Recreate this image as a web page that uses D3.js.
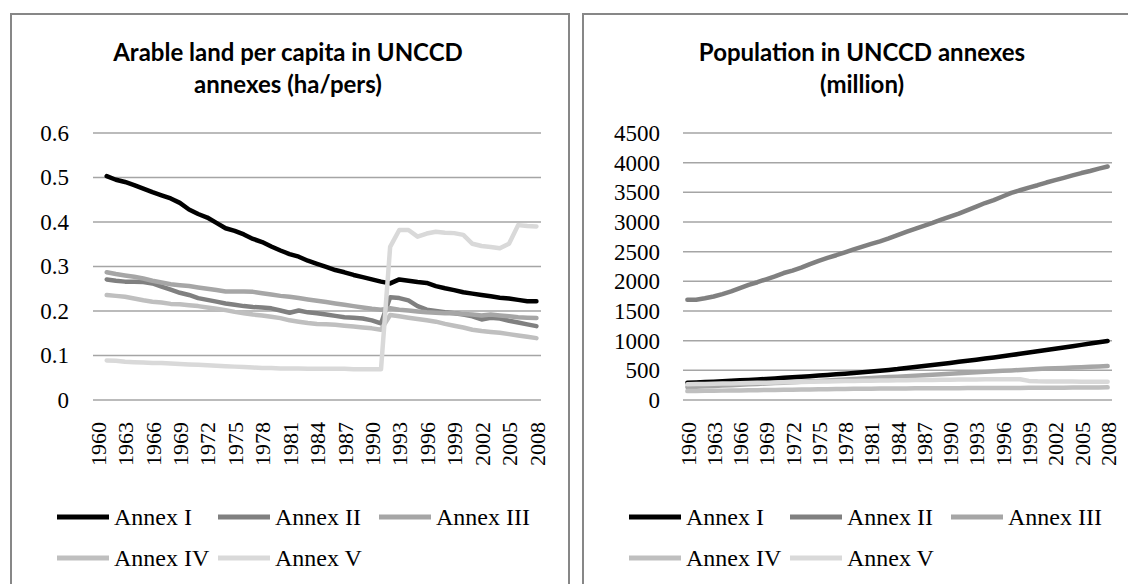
<!DOCTYPE html>
<html>
<head>
<meta charset="utf-8">
<script src="https://cdn.jsdelivr.net/npm/d3@7"></script>
<style>
  body { margin: 0; background: #fff; }
  svg { display: block; }
</style>
</head>
<body>
<svg id="chart"></svg>
<script>
// categories
const years = d3.range(1960, 2009);
const yearTicks = [1960, 1963, 1966, 1969, 1972, 1975, 1978, 1981, 1984, 1987, 1990, 1993, 1996, 1999, 2002, 2005, 2008];
const seriesNames = ["Annex I", "Annex II", "Annex III", "Annex IV", "Annex V"];
const seriesColors = ["#000000", "#808080", "#a6a6a6", "#bfbfbf", "#d9d9d9"];

// arable land per capita (ha/pers), no value for 1960
const arableI = [null,
  0.503, 0.495, 0.490, 0.483, 0.475, 0.467, 0.460, 0.453, 0.443, 0.428,
  0.418, 0.410, 0.398, 0.386, 0.380, 0.372, 0.362, 0.355, 0.345, 0.336,
  0.328, 0.322, 0.313, 0.306, 0.299, 0.292, 0.287, 0.281, 0.276, 0.271,
  0.266, 0.262, 0.271, 0.268, 0.265, 0.263, 0.256, 0.251, 0.247, 0.242,
  0.239, 0.236, 0.233, 0.230, 0.228, 0.225, 0.222, 0.222];
const arableII = [null,
  0.271, 0.268, 0.266, 0.266, 0.265, 0.262, 0.255, 0.248, 0.241, 0.236,
  0.229, 0.225, 0.221, 0.217, 0.214, 0.211, 0.209, 0.208, 0.206, 0.201,
  0.196, 0.201, 0.197, 0.195, 0.192, 0.189, 0.186, 0.185, 0.183, 0.179,
  0.172, 0.231, 0.229, 0.224, 0.211, 0.203, 0.200, 0.197, 0.195, 0.192,
  0.188, 0.181, 0.185, 0.183, 0.178, 0.174, 0.170, 0.166];
const arableIII = [null,
  0.287, 0.283, 0.280, 0.277, 0.273, 0.268, 0.264, 0.260, 0.258, 0.256,
  0.253, 0.250, 0.247, 0.244, 0.244, 0.244, 0.243, 0.240, 0.237, 0.234,
  0.232, 0.229, 0.226, 0.223, 0.220, 0.217, 0.214, 0.211, 0.208, 0.205,
  0.203, 0.206, 0.203, 0.201, 0.199, 0.197, 0.196, 0.195, 0.195, 0.193,
  0.192, 0.190, 0.192, 0.190, 0.188, 0.186, 0.185, 0.184];
const arableIV = [null,
  0.236, 0.234, 0.232, 0.228, 0.224, 0.221, 0.219, 0.216, 0.215, 0.213,
  0.211, 0.208, 0.205, 0.202, 0.198, 0.195, 0.192, 0.190, 0.187, 0.184,
  0.179, 0.176, 0.173, 0.171, 0.170, 0.169, 0.167, 0.165, 0.163, 0.161,
  0.158, 0.191, 0.188, 0.185, 0.182, 0.179, 0.176, 0.171, 0.167, 0.163,
  0.158, 0.155, 0.153, 0.151, 0.148, 0.145, 0.142, 0.139];
const arableV = [null,
  0.089, 0.088, 0.086, 0.085, 0.084, 0.083, 0.083, 0.082, 0.081, 0.080,
  0.079, 0.078, 0.077, 0.076, 0.075, 0.074, 0.073, 0.072, 0.072, 0.071,
  0.071, 0.071, 0.070, 0.070, 0.070, 0.070, 0.070, 0.069, 0.069, 0.069,
  0.069, 0.344, 0.382, 0.382, 0.367, 0.374, 0.378, 0.376, 0.375, 0.371,
  0.351, 0.346, 0.344, 0.341, 0.351, 0.393, 0.391, 0.390];

// population (million)
const popI = [
  290, 296, 302, 309, 316, 323, 331, 339, 347, 355,
  364, 373, 382, 391, 401, 411, 422, 433, 444, 456,
  468, 481, 494, 507, 521, 540, 555, 572, 589, 607,
  625, 643, 661, 680, 699, 718, 738, 758, 778, 799,
  820, 841, 863, 885, 907, 929, 951, 973, 995];
const popII = [
  1690, 1690, 1715, 1745, 1785, 1830, 1885, 1940, 1985, 2035,
  2085, 2140, 2180, 2230, 2290, 2345, 2395, 2440, 2490, 2540,
  2585, 2630, 2675, 2725, 2780, 2835, 2885, 2935, 2985, 3040,
  3090, 3140, 3200, 3260, 3320, 3370, 3430, 3490, 3535, 3580,
  3620, 3665, 3705, 3745, 3785, 3825, 3860, 3900, 3935];
const popIII = [
  218, 224, 230, 237, 243, 250, 257, 264, 271, 278,
  285, 292, 300, 307, 315, 322, 330, 338, 346, 354,
  362, 370, 378, 386, 394, 402, 410, 418, 426, 434,
  442, 450, 458, 466, 474, 483, 491, 499, 507, 514,
  522, 529, 535, 541, 547, 553, 559, 565, 571];
const popIV = [
  150, 152, 154, 156, 158, 160, 162, 164, 166, 168,
  170, 172, 174, 176, 178, 180, 182, 184, 186, 188,
  189, 190, 192, 193, 194, 195, 196, 197, 198, 199,
  200, 200, 201, 201, 202, 202, 203, 203, 204, 205,
  205, 206, 207, 208, 209, 210, 211, 212, 213];
const popV = [
  265, 268, 271, 274, 277, 280, 283, 286, 289, 292,
  295, 298, 301, 304, 307, 310, 313, 316, 319, 321,
  323, 325, 327, 329, 331, 333, 335, 337, 339, 341,
  343, 345, 346, 347, 348, 349, 350, 350, 350, 322,
  315, 313, 312, 311, 310, 309, 308, 307, 306];

const arableTicks = [0, 0.1, 0.2, 0.3, 0.4, 0.5, 0.6];
const popTicks = [0, 500, 1000, 1500, 2000, 2500, 3000, 3500, 4000, 4500];

const w = 1128;
const h = 584;
const serif = "'Liberation Serif', 'Times New Roman', serif";

const svg = d3.select("#chart").attr("width", w).attr("height", h);

const drawPanel = (p) => {
  const g = svg.append("g");

  // chart border
  g.append("rect")
    .attr("x", p.left).attr("y", 14)
    .attr("width", 558).attr("height", 600)
    .attr("fill", "#fff")
    .attr("stroke", "#878787")
    .attr("stroke-width", 2);

  // title
  g.append("text")
    .attr("x", p.titleX)
    .attr("text-anchor", "middle")
    .style("font-family", "Lato, 'Open Sans', sans-serif")
    .style("font-weight", "bold")
    .style("font-size", "24px")
    .selectAll("tspan")
    .data(p.title)
    .enter()
    .append("tspan")
    .attr("x", p.titleX)
    .attr("y", (d, i) => 61 + i * 32)
    .text((d) => d);

  const xScale = d3.scalePoint()
    .domain(years)
    .range([p.x0, p.x1])
    .padding(0.5);

  const yScale = d3.scaleLinear()
    .domain([0, p.yMax])
    .range([400, 133]);

  // gridlines
  g.selectAll("line.grid")
    .data(p.ticks)
    .enter()
    .append("line")
    .attr("class", "grid")
    .attr("x1", p.x0).attr("x2", p.x1)
    .attr("y1", (d) => yScale(d)).attr("y2", (d) => yScale(d))
    .attr("stroke", "#a5a5a5")
    .attr("stroke-width", 1.5);

  // y axis labels
  const yAxis = d3.axisLeft(yScale)
    .tickValues(p.ticks)
    .tickFormat(p.format)
    .tickSize(0)
    .tickPadding(0);
  const ya = g.append("g")
    .attr("transform", "translate(" + p.labelX + ",0)")
    .call(yAxis);
  ya.select(".domain").remove();
  ya.selectAll("text")
    .style("font-family", serif)
    .style("font-size", "23px")
    .attr("fill", "#000");

  // x axis labels
  const xAxis = d3.axisBottom(xScale)
    .tickValues(yearTicks)
    .tickSize(0);
  const xa = g.append("g")
    .attr("transform", "translate(0,400)")
    .call(xAxis);
  xa.select(".domain").remove();
  xa.selectAll("text")
    .attr("transform", "translate(0,22) rotate(-90)")
    .attr("x", 0).attr("y", 0)
    .attr("dy", "0.35em")
    .attr("text-anchor", "end")
    .style("font-family", serif)
    .style("font-size", "22px")
    .attr("fill", "#000");

  // lines
  const line = d3.line()
    .defined((d) => d != null)
    .x((d, i) => xScale(years[i]))
    .y((d) => yScale(d));

  g.selectAll("path.series")
    .data(p.series)
    .enter()
    .append("path")
    .attr("class", "series")
    .attr("d", (d) => line(d))
    .attr("fill", "none")
    .attr("stroke", (d, i) => seriesColors[i])
    .attr("stroke-width", 4.5)
    .attr("stroke-linejoin", "round")
    .attr("stroke-linecap", "round");

  // legend
  const cols = [46, 207, 368];
  const rows = [517, 558];
  const items = g.selectAll("g.legend")
    .data(seriesNames)
    .enter()
    .append("g")
    .attr("class", "legend")
    .attr("transform", (d, i) => "translate(" + (p.left + cols[i % 3]) + "," + rows[Math.floor(i / 3)] + ")");
  items.append("line")
    .attr("x1", 0).attr("x2", 52)
    .attr("y1", 0).attr("y2", 0)
    .attr("stroke", (d, i) => seriesColors[i])
    .attr("stroke-width", 5);
  items.append("text")
    .attr("x", 57)
    .attr("dy", "0.35em")
    .style("font-family", serif)
    .style("font-size", "24px")
    .text((d) => d);
};

drawPanel({
  left: 11,
  title: ["Arable land per capita in UNCCD", "annexes (ha/pers)"],
  titleX: 288,
  x0: 93, x1: 541,
  yMax: 0.6,
  ticks: arableTicks,
  format: (d) => d === 0 ? "0" : d3.format(".1f")(d),
  labelX: 69,
  series: [arableI, arableII, arableIII, arableIV, arableV]
});

drawPanel({
  left: 583,
  title: ["Population in UNCCD annexes", "(million)"],
  titleX: 862,
  x0: 683, x1: 1112,
  yMax: 4500,
  ticks: popTicks,
  format: d3.format("d"),
  labelX: 660,
  series: [popI, popII, popIII, popIV, popV]
});
</script>
</body>
</html>
